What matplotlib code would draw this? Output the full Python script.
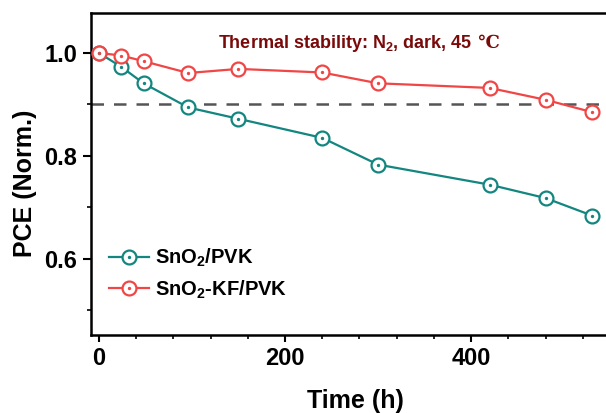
import matplotlib.pyplot as plt
from matplotlib.ticker import MultipleLocator
from matplotlib.legend_handler import HandlerTuple

plt.rcParams['font.family'] = ['Liberation Sans', 'DejaVu Sans']
plt.rcParams['font.weight'] = 'bold'
plt.rcParams['mathtext.fontset'] = 'custom'
plt.rcParams['mathtext.bf'] = 'Liberation Sans:bold'
plt.rcParams['mathtext.rm'] = 'Liberation Sans:bold'

time_h = [0, 24, 48, 96, 150, 240, 300, 420, 480, 530]
pce_sno2 = [1.0, 0.973, 0.941, 0.894, 0.872, 0.835, 0.783, 0.744, 0.718, 0.684]
pce_kf = [1.0, 0.995, 0.984, 0.961, 0.969, 0.962, 0.941, 0.932, 0.909, 0.885]

teal = '#12867f'
red = '#f04646'

fig = plt.figure(figsize=(6.06, 4.13), dpi=100)
ax = fig.add_axes([0.150, 0.189, 0.873, 0.780])

ax.axhline(0.9, color='#555555', lw=1.8, ls=(0, (5, 4)), zorder=1)

handles = []
for y, c, lab in [(pce_sno2, teal, 'SnO$_\\mathbf{2}$/PVK'),
                  (pce_kf, red, 'SnO$_\\mathbf{2}$-KF/PVK')]:
    ln, = ax.plot(time_h, y, color=c, lw=1.6, marker='o', ms=10,
                  mfc='white', mec=c, mew=1.6, zorder=3)
    dot, = ax.plot(time_h, y, ls='none', marker='o', ms=1.4,
                   color=c, zorder=4)
    handles.append(((ln, dot), lab))

ax.legend([h for h, _ in handles], [l for _, l in handles],
          handler_map={tuple: HandlerTuple(ndivide=1, pad=0)},
          loc='lower left', bbox_to_anchor=(0.0, 0.05), frameon=False,
          prop={'size': 14.5, 'weight': 'bold'}, handlelength=2.0,
          handletextpad=0.3, labelspacing=0.45)

t = ax.text(0.48, 0.905, 'Thermal stability: N$_\\mathbf{2}$, dark, 45',
            transform=ax.transAxes, ha='center', va='center',
            color='#7a0a0a', fontsize=13, fontweight='bold')
ax.annotate(' \u2103', xy=(1, 0.5), xycoords=t, va='center', ha='left',
            color='#7a0a0a', fontsize=13, family='DejaVu Serif')

ax.set_xlim(-8.6, 560)
ax.set_ylim(0.452, 1.078)
ax.xaxis.set_major_locator(MultipleLocator(200))
ax.xaxis.set_minor_locator(MultipleLocator(40))
ax.yaxis.set_major_locator(MultipleLocator(0.2))
ax.yaxis.set_minor_locator(MultipleLocator(0.1))
ax.tick_params(which='major', direction='out', length=5, width=1.5,
               labelsize=17)
ax.tick_params(axis='y', which='major', length=6, pad=4)
ax.tick_params(which='minor', direction='out', length=3, width=1.2)
for s in ax.spines.values():
    s.set_linewidth(1.8)

ax.set_xlabel('Time (h)', fontsize=18, fontweight='bold', labelpad=14)
ax.set_ylabel('PCE (Norm.)', fontsize=18, fontweight='bold')
ax.yaxis.set_label_coords(-0.101, 0.47)

fig.savefig('out.png', dpi=100)
